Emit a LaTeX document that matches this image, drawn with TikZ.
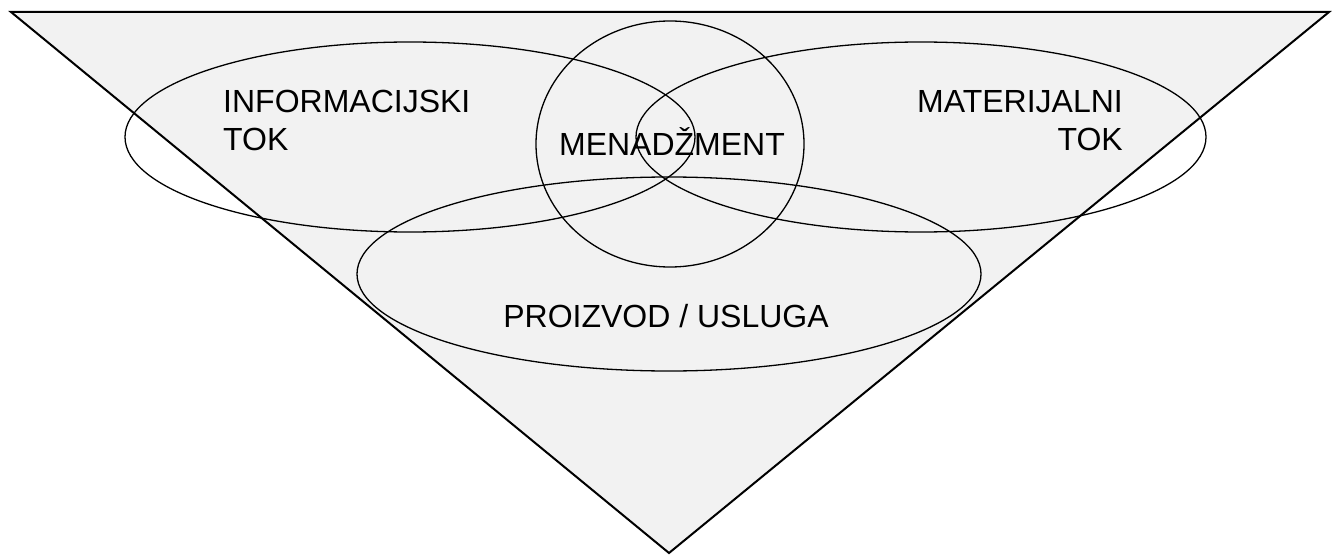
\documentclass[tikz,border=0pt]{standalone}
\usepackage{fontspec}
\setmainfont{Liberation Sans}
\definecolor{trifill}{HTML}{F2F2F2}
\begin{document}
\begin{tikzpicture}[x=1pt, y=-1pt, every node/.style={inner sep=0pt, font=\fontsize{32}{38}\selectfont},
    ring/.style={draw, line width=1.3pt}]
    \useasboundingbox (0,0) rectangle (1338,556);

    % Triangle
    \coordinate (TL) at (11,12);
    \coordinate (TR) at (1329,12);
    \coordinate (B) at (669,553);
    \draw[fill=trifill, line width=2pt] (TL) -- (TR) -- (B) -- cycle;

    % Ellipses
    \draw[ring] (410,137) ellipse [x radius=285, y radius=95];
    \draw[ring] (921,137) ellipse [x radius=285, y radius=95];
    \draw[ring] (670,144) ellipse [x radius=134, y radius=123];
    \draw[ring] (669,274) ellipse [x radius=312, y radius=97];

    % Labels
    \node[anchor=north west, align=left] (info) at (223,90) {INFORMACIJSKI\\TOK};
    \node[anchor=north east, align=right] (mat) at (1123,90) {MATERIJALNI\\TOK};
    \node[anchor=base] (men) at (672,156) {MENADŽMENT};
    \node[anchor=base] (prod) at (666,327) {PROIZVOD / USLUGA};
\end{tikzpicture}
\end{document}
